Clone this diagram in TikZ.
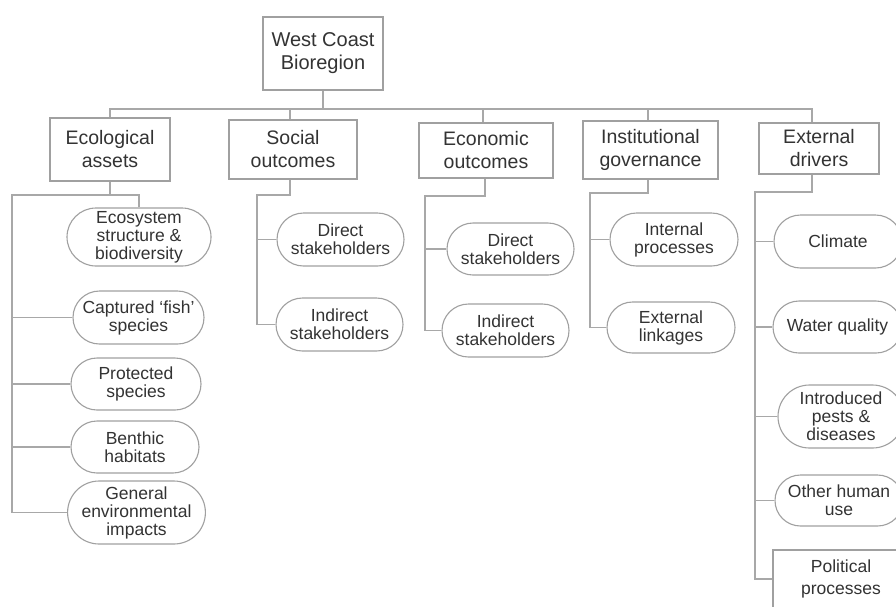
\documentclass[tikz,border=0pt]{standalone}
\usepackage{fontspec}
\setmainfont{Liberation Sans}
\usetikzlibrary{shapes.misc}
\definecolor{txt}{HTML}{333333}
\definecolor{linec}{HTML}{A8A8A8}
\definecolor{boxc}{HTML}{A0A0A0}
\begin{document}
\begin{tikzpicture}[x=1pt,y=-1pt,
  conn/.style={draw=linec, line width=1.2pt},
  sz/.style 2 args={minimum width=#1, minimum height=#2},
  box/.style={draw=boxc, line width=1.1pt, rectangle, align=center, inner sep=0pt,
    text=txt, font=\fontsize{19.5}{23}\selectfont},
  pill/.style={draw=boxc, line width=1.1pt, rounded rectangle, align=center, inner sep=0pt,
    text=txt, font=\fontsize{17.5}{18}\selectfont}]
\useasboundingbox (0,0) rectangle (896,606);
\fill[white] (0,0) rectangle (896,606);

% top and level 1
\node[box, sz={120pt}{73pt}, font=\fontsize{20}{23}\selectfont] (top) at (323,53.5) {West Coast\\Bioregion};
\node[box, sz={120pt}{63pt}] (eco) at (110,149.5) {Ecological\\assets};
\node[box, sz={128pt}{59pt}] (soc) at (293,149.5) {Social\\outcomes};
\node[box, sz={134pt}{55pt}] (econ) at (486,150.5) {Economic\\outcomes};
\node[box, sz={135pt}{58pt}] (inst) at (650.5,150) {Institutional\\governance};
\node[box, sz={120pt}{51pt}] (ext) at (819,148.5) {External\\drivers};

% ecological children
\node[pill, sz={144pt}{58pt}] (e1) at (139,237) {Ecosystem\\structure \&\\biodiversity};
\node[pill, sz={131pt}{53pt}] (e2) at (138.5,317.5) {Captured `fish'\\species};
\node[pill, sz={130pt}{52pt}] (e3) at (136,384) {Protected\\species};
\node[pill, sz={128pt}{52pt}] (e4) at (135,447) {Benthic\\habitats};
\node[pill, sz={129pt}{63pt}] (e5) at (136.5,512.5) {General\\environmental\\impacts};

% social children
\node[pill, sz={127pt}{53pt}] (s1) at (340.5,239.5) {Direct\\stakeholders};
\node[pill, sz={127pt}{53pt}] (s2) at (339.5,324.5) {Indirect\\stakeholders};

% economic children
\node[pill, sz={127pt}{52pt}] (c1) at (510.5,249) {Direct\\stakeholders};
\node[pill, sz={127pt}{53pt}] (c2) at (505.5,330.5) {Indirect\\stakeholders};

% institutional children
\node[pill, sz={128pt}{53pt}] (i1) at (674,239.5) {Internal\\processes};
\node[pill, sz={128pt}{51pt}] (i2) at (671,327.5) {External\\linkages};

% external children
\node[pill, sz={128pt}{53pt}] (x1) at (838,241.5) {Climate};
\node[pill, sz={129pt}{52pt}] (x2) at (837.5,327) {Water quality};
\node[pill, sz={126pt}{63pt}] (x3) at (841,416.5) {Introduced\\pests \&\\diseases};
\node[pill, sz={128pt}{51pt}] (x4) at (839,500.5) {Other human\\use};
\node[box, sz={136pt}{58pt}, font=\fontsize{17.5}{22}\selectfont] (x5) at (841,579) {Political\\processes};

% bus from top
\coordinate (bus) at (0,109);
\coordinate (socN) at ([xshift=-3pt]soc.north);
\coordinate (econN) at ([xshift=-3pt]econ.north);
\coordinate (instN) at ([xshift=-2.5pt]inst.north);
\coordinate (extN) at ([xshift=-7pt]ext.north);
\draw[conn] (top.south) -- (top.south |- bus);
\draw[conn] (eco.north) -- (eco.north |- bus) -- (extN |- bus) -- (extN);
\draw[conn] (socN) -- (socN |- bus);
\draw[conn] (econN) -- (econN |- bus);
\draw[conn] (instN) -- (instN |- bus);

% ecological branch
\coordinate (ecoJ) at (12,195);
\draw[conn] (eco.south) -- (eco.south |- ecoJ);
\draw[conn] (e1.north) -- (e1.north |- ecoJ) -- (ecoJ) |- (e5.west);
\foreach \n in {e2,e3,e4} \draw[conn] (ecoJ |- \n.west) -- (\n.west);

% social branch
\coordinate (socJ) at (257,195);
\coordinate (socS) at ([xshift=-3pt]soc.south);
\draw[conn] (socS) -- (socS |- socJ) -- (socJ) |- (s2.west);
\draw[conn] (socJ |- s1.west) -- (s1.west);

% economic branch
\coordinate (econJ) at (425,196);
\coordinate (econS) at ([xshift=-1pt]econ.south);
\draw[conn] (econS) -- (econS |- econJ) -- (econJ) |- (c2.west);
\draw[conn] (econJ |- c1.west) -- (c1.west);

% institutional branch
\coordinate (instJ) at (590,193);
\coordinate (instS) at ([xshift=-2.5pt]inst.south);
\draw[conn] (instS) -- (instS |- instJ) -- (instJ) |- (i2.west);
\draw[conn] (instJ |- i1.west) -- (i1.west);

% external branch
\coordinate (extJ) at (755,192);
\coordinate (extS) at ([xshift=-7pt]ext.south);
\draw[conn] (extS) -- (extS |- extJ) -- (extJ) |- (x5.west);
\foreach \n in {x1,x2,x3,x4} \draw[conn] (extJ |- \n.west) -- (\n.west);
\end{tikzpicture}
\end{document}
